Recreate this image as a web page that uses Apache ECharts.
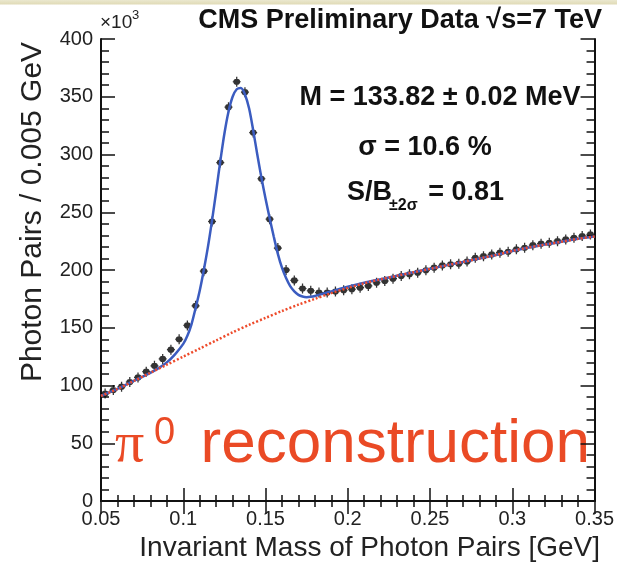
<!DOCTYPE html>
<html>
<head>
<meta charset="utf-8">
<script src="https://cdn.jsdelivr.net/npm/echarts@6/dist/echarts.min.js"></script>
<style>
html,body{margin:0;padding:0;background:#fff;}
#chart{width:617px;height:563px;}
</style>
</head>
<body>
<div id="chart"></div>
<script>
// ---- data (counts in units of 10^3 photon pairs per 0.005 GeV) ----
const binCenters = [0.0525,0.0575,0.0625,0.0675,0.0725,0.0775,0.0825,0.0875,0.0925,0.0975,
  0.1025,0.1075,0.1125,0.1175,0.1225,0.1275,0.1325,0.1375,0.1425,0.1475,
  0.1525,0.1575,0.1625,0.1675,0.1725,0.1775,0.1825,0.1875,0.1925,0.1975,
  0.2025,0.2075,0.2125,0.2175,0.2225,0.2275,0.2325,0.2375,0.2425,0.2475,
  0.2525,0.2575,0.2625,0.2675,0.2725,0.2775,0.2825,0.2875,0.2925,0.2975,
  0.3025,0.3075,0.3125,0.3175,0.3225,0.3275,0.3325,0.3375,0.3425,0.3475];
const counts = [93,96,99,103,107,112,117,123,131,140,
  152,169,199,242,293,341,363,354,319,279,
  244,219,200,191,184,182,180.5,180.5,181.3,182.5,
  183.3,184.7,186.2,189,190.5,192.5,194.8,196.3,197.7,199.7,
  202,204,205,205.5,207.3,210.5,212,213.5,215,215.8,
  217.9,219.3,221.5,222.8,223.6,225,226.5,227.9,229.4,230.8];

const fitX = [0.05,0.06,0.07,0.08,0.085,0.09,0.095,0.1,0.1025,0.105,0.1075,0.11,0.1125,0.115,0.1175,
  0.12,0.1225,0.125,0.1275,0.13,0.1325,0.135,0.1375,0.14,0.1425,0.145,0.1475,0.15,0.1525,0.155,
  0.1575,0.16,0.1625,0.165,0.1675,0.17,0.1725,0.175,0.1775,0.18,0.185,0.19,0.2,0.21,0.22,0.23,
  0.24,0.25,0.26,0.27,0.28,0.29,0.3,0.31,0.32,0.33,0.34,0.35];
const fitY = [91,97,104,111,115,120,127,136,143,153,167,182,200,220,243,
  268,294,318,337,350,356.5,357.5,352,340,321,300,280,262,245,229,
  214,202,193,186,181.5,178.5,177,176.5,176.8,177.5,179.5,181.5,185.5,189,192,195,
  198,201,204,207,210,213,216.5,219.5,222,224.5,227,229];

const bgX = [0.05,0.06,0.07,0.08,0.09,0.10,0.11,0.12,0.13,0.14,0.15,0.16,0.17,0.18,0.19,0.20,
  0.21,0.22,0.23,0.24,0.25,0.26,0.27,0.28,0.29,0.30,0.31,0.32,0.33,0.34,0.35];
const bgY = [91,97,104,111,118,125,132,139,146,152.5,158.5,164.5,170,175,180,184.5,
  188.5,192,195,198,201,204,207,210,213,216.5,219.5,222,224.5,227,229];

const xTickLabels = ['0.05','0.1','0.15','0.2','0.25','0.3','0.35'];
const yTickLabels = ['0','50','100','150','200','250','300','350','400'];

const zip = (a, b) => a.map((v, i) => [v, b[i]]);

const chart = echarts.init(document.getElementById('chart'), null, {renderer: 'canvas'});
const FONT = 'Liberation Sans, Arial, Helvetica, sans-serif';
const frameLine = {show: true, lineStyle: {color: '#111', width: 2}};
const tickStyle = {color: '#111', width: 1.5};

const xBase = {
  type: 'value', min: 0.05, max: 0.35, interval: 0.05,
  splitLine: {show: false},
  axisLine: frameLine,
  axisTick: {show: true, inside: true, length: 13, lineStyle: tickStyle},
  minorTick: {show: true, splitNumber: 5, length: 6, lineStyle: tickStyle},
  minorSplitLine: {show: false}
};
const yBase = {
  type: 'value', min: 0, max: 400, interval: 50,
  splitLine: {show: false},
  axisLine: frameLine,
  axisTick: {show: true, inside: true, length: 14, lineStyle: tickStyle},
  minorTick: {show: true, splitNumber: 5, length: 8, lineStyle: tickStyle},
  minorSplitLine: {show: false}
};

const markerPath = 'path://M-0.8,-7 L0.8,-7 L0.8,7 L-0.8,7 Z M-5,-0.8 L5,-0.8 L5,0.8 L-5,0.8 Z M-4.3,0 A4.3,4.3 0 1,1 4.3,0 A4.3,4.3 0 1,1 -4.3,0 Z';

const option = {
  animation: false,
  backgroundColor: '#ffffff',
  grid: {left: 101, top: 39, right: 16, bottom: 62, containLabel: false},
  xAxis: [
    Object.assign({}, xBase, {
      position: 'bottom',
      axisLabel: {show: true, fontSize: 20, color: '#222', fontFamily: FONT, margin: 8,
        showMinLabel: true, showMaxLabel: true,
        formatter: v => xTickLabels[Math.round((v - 0.05) / 0.05)]}
    }),
    Object.assign({}, xBase, {position: 'top', axisLabel: {show: false}})
  ],
  yAxis: [
    Object.assign({}, yBase, {
      position: 'left',
      axisLabel: {show: true, fontSize: 20, color: '#222', fontFamily: FONT, margin: 8,
        showMinLabel: true, showMaxLabel: true,
        formatter: v => yTickLabels[Math.round(v / 50)]}
    }),
    Object.assign({}, yBase, {position: 'right', axisLabel: {show: false}})
  ],
  series: [
    {
      name: 'Data', type: 'scatter', xAxisIndex: 0, yAxisIndex: 0,
      data: zip(binCenters, counts),
      symbol: markerPath, symbolSize: [8, 10],
      itemStyle: {color: '#000'}, z: 2
    },
    {
      name: 'Fit', type: 'line', xAxisIndex: 0, yAxisIndex: 0,
      data: zip(fitX, fitY), smooth: 0.3, showSymbol: false, symbol: 'none',
      lineStyle: {color: '#3b5cc0', width: 2.5}, z: 3
    },
    {
      name: 'Background', type: 'line', xAxisIndex: 0, yAxisIndex: 0,
      data: zip(bgX, bgY), smooth: 0.3, showSymbol: false, symbol: 'none',
      lineStyle: {color: '#ee4a2a', width: 2.5, type: [2, 2]}, z: 4
    }
  ],
  graphic: [
    {type: 'rect', shape: {x: 0, y: 0, width: 617, height: 5}, silent: true,
      style: {fill: new echarts.graphic.LinearGradient(0, 0, 0, 1, [
        {offset: 0, color: '#ebe8cf'}, {offset: 0.7, color: '#e2ddbb'}, {offset: 1, color: '#f6f4ea'}])}},
    {type: 'text', x: 602, y: 21, style: {text: 'CMS Preliminary Data √s=7 TeV',
      font: 'bold 27px ' + FONT, fill: '#111', textAlign: 'right', textVerticalAlign: 'middle'}},
    {type: 'text', x: 100, y: 32, style: {text: '×10', font: '19px ' + FONT, fill: '#222',
      textAlign: 'left', textVerticalAlign: 'bottom'}},
    {type: 'text', x: 132, y: 22, style: {text: '3', font: '13px ' + FONT, fill: '#222',
      textAlign: 'left', textVerticalAlign: 'bottom'}},
    {type: 'text', x: 440, y: 98, style: {text: 'M = 133.82 ± 0.02 MeV',
      font: 'bold 27px ' + FONT, fill: '#111', textAlign: 'center', textVerticalAlign: 'middle'}},
    {type: 'text', x: 425, y: 148, style: {text: 'σ = 10.6 %',
      font: 'bold 27px ' + FONT, fill: '#111', textAlign: 'center', textVerticalAlign: 'middle'}},
    {type: 'text', x: 347, y: 193, style: {text: 'S/B',
      font: 'bold 27px ' + FONT, fill: '#111', textAlign: 'left', textVerticalAlign: 'middle'}},
    {type: 'text', x: 389, y: 206, style: {text: '±2σ',
      font: 'bold 16px ' + FONT, fill: '#111', textAlign: 'left', textVerticalAlign: 'middle'}},
    {type: 'text', x: 504, y: 193, style: {text: '= 0.81',
      font: 'bold 27px ' + FONT, fill: '#111', textAlign: 'right', textVerticalAlign: 'middle'}},
    {type: 'text', x: 115, y: 446, style: {text: 'π',
      font: '58px Liberation Serif, Times New Roman, serif', fill: '#ea4a25', textAlign: 'left', textVerticalAlign: 'middle'}},
    {type: 'text', x: 154, y: 434, style: {text: '0',
      font: '38px ' + FONT, fill: '#ea4a25', textAlign: 'left', textVerticalAlign: 'middle'}},
    {type: 'text', x: 590, y: 445, style: {text: 'reconstruction',
      font: '62px ' + FONT, fill: '#ea4a25', textAlign: 'right', textVerticalAlign: 'middle'}},
    {type: 'text', x: 33, y: 212, rotation: Math.PI / 2, style: {text: 'Photon Pairs / 0.005 GeV',
      font: '30px ' + FONT, fill: '#222', textAlign: 'center', textVerticalAlign: 'middle'}},
    {type: 'text', x: 600, y: 548, style: {text: 'Invariant Mass of Photon Pairs [GeV]',
      font: '28px ' + FONT, fill: '#222', textAlign: 'right', textVerticalAlign: 'middle'}}
  ]
};
chart.setOption(option);
</script>
</body>
</html>
